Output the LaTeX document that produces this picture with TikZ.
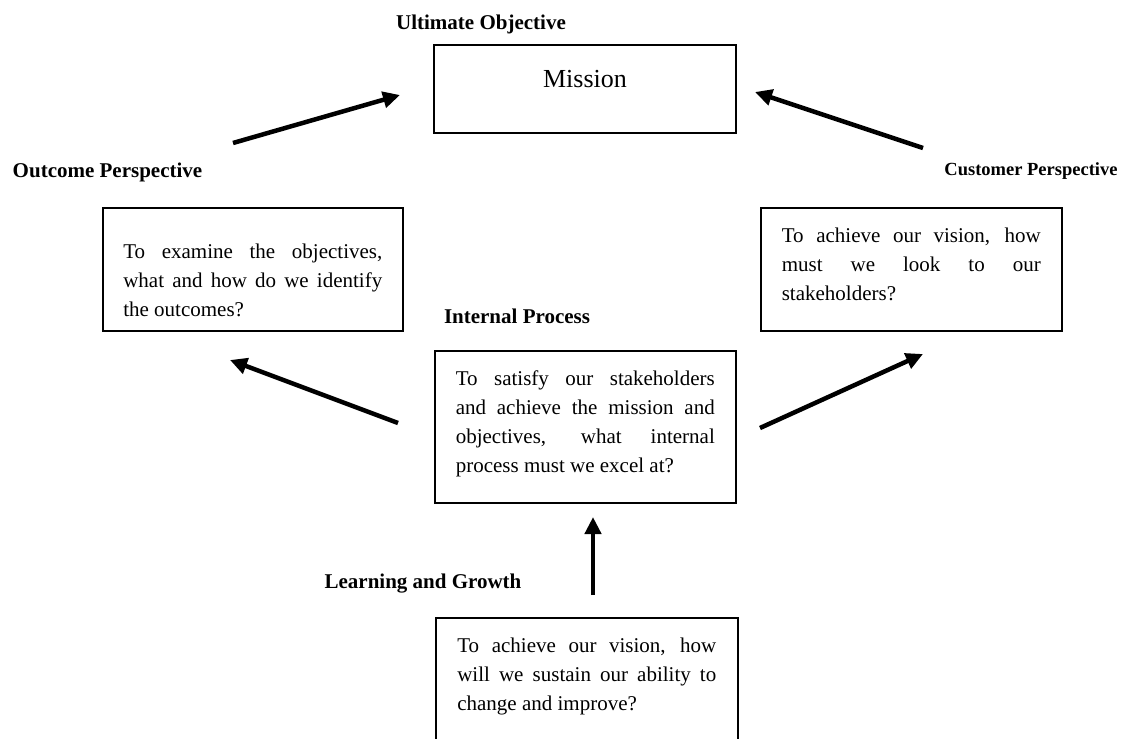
\documentclass[tikz,border=0pt]{standalone}
\usepackage{fontspec}
\setmainfont{Liberation Serif}
\usepackage{tikz}
\usetikzlibrary{arrows.meta}
\usetikzlibrary{positioning}

\tikzset{
    box/.style={draw, line width=1.6pt, anchor=north west, inner ysep=0pt},
    para/.style={box, text width=259pt, align=justify, font=\fontsize{21}{29}\selectfont},
    heading/.style={font=\bfseries\fontsize{21}{25}\selectfont},
    flow/.style={line width=4.5pt, -{Triangle[length=17pt,width=16pt]}}
}

\begin{document}
\begin{tikzpicture}[x=1pt,y=-1pt]
        \useasboundingbox (0,0) rectangle (1123,738);
        \clip (0,0) rectangle (1123,738);
        % boxes
        \node[box, anchor=north, minimum width=302pt, text height=43pt, text depth=45pt,
              font=\fontsize{26}{30}\selectfont] (mission) at (585,44) {Mission};
        \node[para, inner xsep=20.5pt, text height=51pt, text depth=72pt] (outcome) at (102,207)
            {To examine the objectives,\linebreak what and how do we identify\linebreak the outcomes?};
        \node[para, inner xsep=21pt, text height=35pt, text depth=88pt] (customer) at (760,207)
            {To achieve our vision, how\linebreak must we look to our\linebreak stakeholders?};
        \node[para, inner xsep=21pt, text height=35pt, text depth=117pt] (internal) at (434,350)
            {To satisfy our stakeholders\linebreak and achieve the mission and\linebreak objectives, what internal\linebreak process must we excel at?};
        \node[para, inner xsep=21.5pt, text height=35pt, text depth=110pt] (learning) at (435,617)
            {To achieve our vision, how\linebreak will we sustain our ability to\linebreak change and improve?};
        % headings
        \node[heading] (ultimatelbl) at (481,24) {Ultimate Objective};
        \node[heading] (outcomelbl) at (107.5,172) {Outcome Perspective};
        \node[heading, font=\bfseries\fontsize{18.5}{22}\selectfont] (customerlbl) at (1031,171) {Customer Perspective};
        \node[heading] (internallbl) at (517,316) {Internal Process};
        \node[heading] (learninglbl) at (423,584) {Learning and Growth};
        % arrows
        \coordinate (outstart) at (233,143);
        \coordinate (outend) at (400,95);
        \coordinate (custstart) at (923,148);
        \coordinate (custend) at (755,92);
        \coordinate (intleft) at (398,423);
        \coordinate (intleftend) at (230,360);
        \coordinate (intright) at (760,428);
        \coordinate (intrightend) at (923,354);
        \coordinate (learnstart) at (593,595);
        \coordinate (learnend) at (593,517);
        \draw[flow] (outstart) -- (outend);
        \draw[flow] (custstart) -- (custend);
        \draw[flow] (intleft) -- (intleftend);
        \draw[flow] (intright) -- (intrightend);
        \draw[flow] (learnstart) -- (learnend);
    \end{tikzpicture}
\end{document}
